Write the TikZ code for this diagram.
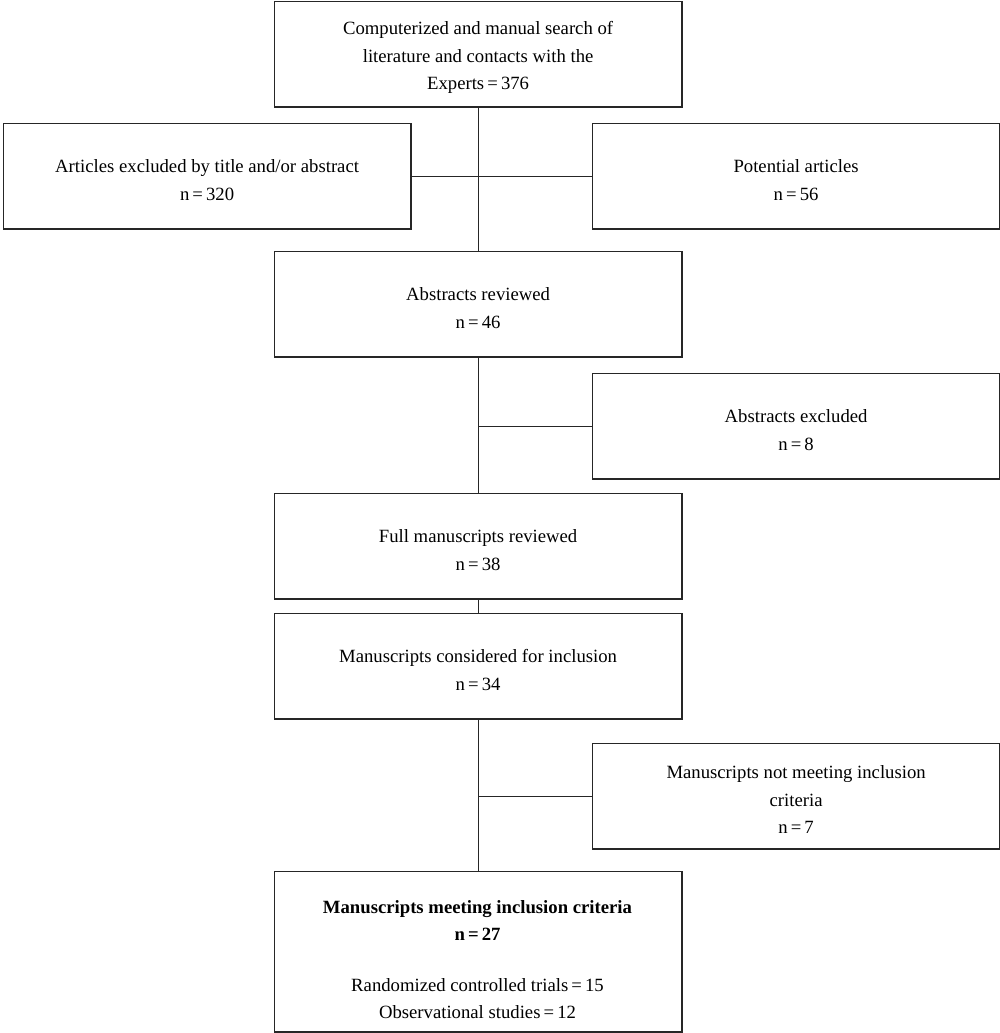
\documentclass[tikz,border=0pt]{standalone}
\usepackage{fontspec}
\setmainfont{Liberation Serif}
\newcommand{\toppad}{\mbox{}\\[-7pt]}
\begin{document}
\begin{tikzpicture}[x=1pt,y=-1pt,
  box/.style={draw=black!85, line width=1.3pt, minimum width=407.5pt, minimum height=105.5pt,
    align=center, inner sep=0pt, anchor=north west, font=\fontsize{18.7}{27.5}\selectfont},
  link/.style={draw=black!85, line width=1.2pt}]
\useasboundingbox (0,0) rectangle (1000,1033);
\node[box] (search) at (273.7,0.7) {\toppad Computerized and manual search of\\literature and contacts with the\\Experts\,=\,376};
\node[box] (excl1) at (2.7,122.7) {\toppad Articles excluded by title and/or abstract\\n\,=\,320};
\node[box] (pot) at (591.7,122.7) {\toppad Potential articles\\n\,=\,56};
\node[box] (absrev) at (273.7,250.7) {\toppad Abstracts reviewed\\n\,=\,46};
\node[box] (absexc) at (591.7,372.7) {\toppad Abstracts excluded\\n\,=\,8};
\node[box] (full) at (273.7,492.7) {\toppad Full manuscripts reviewed\\n\,=\,38};
\node[box] (cons) at (273.7,612.7) {\toppad Manuscripts considered for inclusion\\n\,=\,34};
\node[box] (notmeet) at (591.7,742.7) {\toppad Manuscripts not meeting inclusion\\criteria\\n\,=\,7};
\node[box, minimum height=160.5pt] (final) at (273.7,870.7) {};
\node[align=center, inner sep=0pt, font=\fontsize{18.7}{27.5}\selectfont] (finaltext) at (477.5,959.5)
  {\textbf{Manuscripts meeting inclusion criteria}\\\textbf{n\,=\,27}\\[23pt]Randomized controlled trials\,=\,15\\Observational studies\,=\,12};
\path[link] (search.south) -- (absrev.north);
\path[link] (excl1.east) -- (pot.west);
\path[link] (absrev.south) -- (full.north);
\path[link] (absexc.west) -- (absrev.south |- absexc.west);
\path[link] (full.south) -- (cons.north);
\path[link] (cons.south) -- (final.north);
\path[link] (notmeet.west) -- (cons.south |- notmeet.west);
\end{tikzpicture}
\end{document}
